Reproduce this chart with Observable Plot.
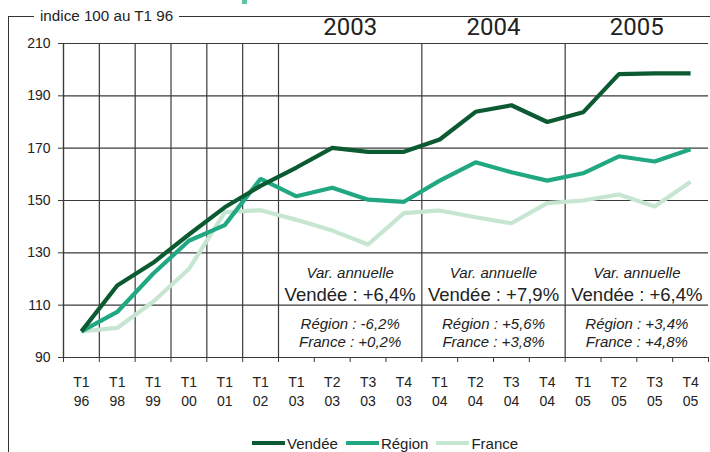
<!DOCTYPE html>
<html><head><meta charset="utf-8">
<script src="https://cdn.jsdelivr.net/npm/d3@7"></script>
<script src="https://cdn.jsdelivr.net/npm/@observablehq/plot@0.6"></script>
<style>
body{margin:0;background:#fff;}
#wrap{position:relative;width:710px;height:452px;overflow:hidden;font-family:"Liberation Sans",Arial,sans-serif;color:#222;}
#chart{position:absolute;left:0;top:0;}
#frame{position:absolute;left:8px;top:16px;width:720px;height:460px;border-left:1.4px solid #333;border-top:1.4px solid #333;}
#unit{position:absolute;left:34px;top:7px;background:#fff;padding:0 6px;font-size:15.2px;line-height:18px;color:#222;}
#mark{position:absolute;left:242px;top:0;width:5px;height:4px;background:#5cc3a3;}
#legend{position:absolute;top:434px;left:252px;height:18px;display:flex;align-items:center;font-size:15px;color:#222;}
#legend .sw{width:33px;height:4px;margin-right:2px;}
#legend .it{display:flex;align-items:center;margin-right:8px;}
</style>
</head><body>
<div id="wrap">
  <div id="chart"></div>
  <div id="frame"></div>
  <div id="unit">indice 100 au T1 96</div>
  <div id="mark"></div>
  <div id="legend"></div>
</div>
<script>
const quarters = ["T1 96","T1 98","T1 99","T1 00","T1 01","T1 02","T1 03","T2 03","T3 03","T4 03","T1 04","T2 04","T3 04","T4 04","T1 05","T2 05","T3 05","T4 05"];
const vendee = [100,117.5,126.2,137,147.4,155.6,162.6,170.1,168.6,168.6,173.3,183.9,186.4,180,183.7,198.3,198.6,198.6];
const region = [100,107.4,122,134.6,140.6,158.3,151.6,154.9,150.3,149.5,157.6,164.6,160.8,157.6,160.4,166.9,164.9,169.6];
const france = [100,101.3,111.3,123.8,145.5,146.3,142.6,138.5,133.2,145.2,146.2,143.6,141.3,149.0,150.0,152.3,147.7,157.2];
const seriesNames = ["Vendée","Région","France"];
const seriesColors = ["#0b5a31","#21a883","#c6e6d2"];
const yTicks = [90,110,130,150,170,190,210];
const years = ["2003","2004","2005"];
const varLabel = "Var. annuelle";
const varVendee = ["+6,4%","+7,9%","+6,4%"];
const varRegion = ["-6,2%","+5,6%","+3,4%"];
const varFrance = ["+0,2%","+3,8%","+4,8%"];

const seriesValues = {"Vendée": vendee, "Région": region, "France": france};
// draw order: France, Région, Vendée (dark on top)
const rows = ["France","Région","Vendée"].flatMap(s =>
  seriesValues[s].map((v, i) => ({series: s, x: i + 0.5, value: v})));

const boundaries = quarters.map((q, i) => i).filter(i => i > 0 && quarters[i].startsWith("T1"));
const sections = years.map((y, k) => {
  const start = quarters.indexOf("T1 " + y.slice(2));
  return {year: y, center: start + 2, vendee: varVendee[k], region: varRegion[k], france: varFrance[k]};
});

const gridColor = "#3a3a3a";
const chart = Plot.plot({
  width: 710,
  height: 420,
  marginLeft: 63,
  marginRight: 2,
  marginTop: 43,
  marginBottom: 63,
  style: {fontFamily: "Liberation Sans, Arial, sans-serif", fontSize: "14px", color: "#222", background: "transparent", overflow: "visible"},
  x: {domain: [0, quarters.length], axis: null},
  y: {domain: [90, 210], axis: null},
  color: {domain: seriesNames, range: seriesColors},
  marks: [
    Plot.ruleY(yTicks, {stroke: gridColor, strokeWidth: 1.2}),
    Plot.ruleX(boundaries, {y1: 90, y2: 210, stroke: gridColor, strokeWidth: 1.2}),
    Plot.ruleX([0], {y1: 90, y2: 210, stroke: gridColor, strokeWidth: 1.4}),
    Plot.axisY({ticks: yTicks, tickSize: 5, tickPadding: 8, label: null, stroke: gridColor}),
    Plot.axisX({ticks: d3.range(quarters.length + 1), tickSize: 5, tickFormat: () => "", label: null, stroke: gridColor}),
    Plot.axisX({ticks: quarters.map((q, i) => i + 0.5), tickSize: 0, tickPadding: 17, lineHeight: 1.3,
      tickFormat: d => quarters[Math.floor(d)].replace(" ", "\n"), label: null}),
    Plot.line(rows, {x: "x", y: "value", z: "series", stroke: "series", strokeWidth: 4.2, strokeLinejoin: "miter", strokeLinecap: "butt"}),
    Plot.text(sections, {x: "center", y: () => 210, dy: -16, text: "year", fontSize: 24, fontFamily: "Roboto", fill: "#222"}),
    Plot.text(sections, {x: "center", y: () => 122.4, text: () => varLabel, fontSize: 15, fontStyle: "italic", fill: "#222"}),
    Plot.text(sections, {x: "center", y: () => 114.0, text: d => "Vendée : " + d.vendee, fontSize: 18.5, fill: "#222"}),
    Plot.text(sections, {x: "center", y: () => 102.9, text: d => "Région : " + d.region, fontSize: 15, fontStyle: "italic", fill: "#222"}),
    Plot.text(sections, {x: "center", y: () => 95.8, text: d => "France : " + d.france, fontSize: 15, fontStyle: "italic", fill: "#222"})
  ]
});
document.getElementById("chart").appendChild(chart);

const legend = document.getElementById("legend");
seriesNames.forEach((s, i) => {
  const it = document.createElement("div");
  it.className = "it";
  const sw = document.createElement("div");
  sw.className = "sw";
  sw.style.background = seriesColors[i];
  const t = document.createElement("span");
  t.textContent = s;
  it.appendChild(sw); it.appendChild(t);
  legend.appendChild(it);
});
</script>
</body></html>
